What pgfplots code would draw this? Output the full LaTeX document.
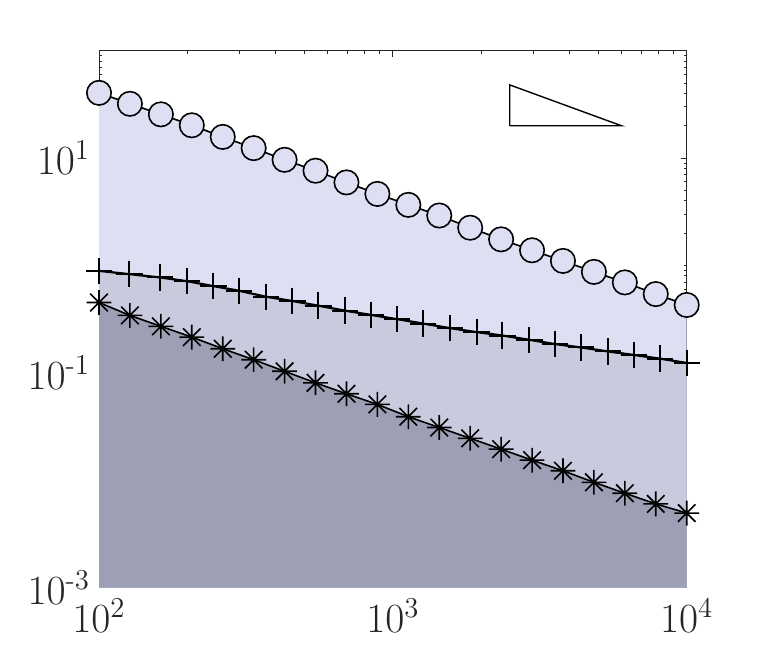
\documentclass[border=0pt]{standalone}
\usepackage{amsmath}
\usepackage{pgfplots}
\pgfplotsset{compat=1.18}
\definecolor{fillA}{RGB}{222,223,243}
\definecolor{fillB}{RGB}{201,202,221}
\definecolor{fillC}{RGB}{157,159,181}
\definecolor{axc}{RGB}{38,38,38}
\pgfdeclareplotmark{ast8}{%
  \pgfpathmoveto{\pgfpoint{-\pgfplotmarksize}{0pt}}%
  \pgfpathlineto{\pgfpoint{\pgfplotmarksize}{0pt}}%
  \pgfpathmoveto{\pgfpoint{0pt}{-\pgfplotmarksize}}%
  \pgfpathlineto{\pgfpoint{0pt}{\pgfplotmarksize}}%
  \pgfpathmoveto{\pgfpoint{-0.707\pgfplotmarksize}{-0.707\pgfplotmarksize}}%
  \pgfpathlineto{\pgfpoint{0.707\pgfplotmarksize}{0.707\pgfplotmarksize}}%
  \pgfpathmoveto{\pgfpoint{-0.707\pgfplotmarksize}{0.707\pgfplotmarksize}}%
  \pgfpathlineto{\pgfpoint{0.707\pgfplotmarksize}{-0.707\pgfplotmarksize}}%
  \pgfusepathqstroke}
\pgfplotstableread{
x y
100 40.51
127.4 32.03
162.4 25.55
206.9 20.21
263.7 15.75
336.0 12.38
428.1 9.64
545.6 7.63
695.2 5.94
885.9 4.64
1128.8 3.67
1438.4 2.92
1832.9 2.248
2335.7 1.752
2976.4 1.386
3792.7 1.103
4832.9 0.872
6158.5 0.696
7847.6 0.542
10000 0.429
}\circdata
\pgfplotstableread{
x y
100 0.891
126.8 0.831
161.3 0.774
198.9 0.715
244.9 0.643
299.5 0.582
370.1 0.512
454.8 0.467
557.6 0.4225
687.5 0.3798
842.6 0.3465
1035 0.3162
1269 0.2879
1565 0.2610
1929 0.2396
2358 0.2229
2913 0.2033
3563 0.1855
4368 0.1726
5385 0.1585
6618 0.1468
8115 0.1357
10000 0.1238
}\plusdata
\pgfplotstableread{
x y
100 0.4524
127.4 0.3429
162.4 0.2713
206.9 0.2154
263.7 0.1679
336.0 0.1327
428.1 0.1035
545.6 0.0808
695.2 0.0639
885.9 0.0509
1128.8 0.0391
1438.4 0.0310
1832.9 0.0246
2335.7 0.0195
2976.4 0.0154
3792.7 0.01227
4832.9 0.00958
6158.5 0.00758
7847.6 0.00603
10000 0.00495
}\astdata
\begin{document}
\begin{tikzpicture}
\begin{axis}[
  at={(0,0)}, anchor=south west,
  scale only axis, width=293.85pt, height=268.5pt,
  xmode=log, ymode=log, log origin y=infty,
  xmin=100, xmax=10000, ymin=1e-3, ymax=100,
  xtick={100,1000,10000},
  xticklabels={$10^{2}$,$10^{3}$,$10^{4}$},
  ytick={1e-3,1e-1,1e1},
  yticklabels={$10^{\text{-}3}$,$10^{\text{-}1}$,$10^{1}$},
  minor xtick={200,300,400,500,600,700,800,900,2000,3000,4000,5000,6000,7000,8000,9000},
  minor ytick={2e-3,3e-3,4e-3,5e-3,6e-3,7e-3,8e-3,9e-3,1e-2,2e-2,3e-2,4e-2,5e-2,6e-2,7e-2,8e-2,9e-2,
    2e-1,3e-1,4e-1,5e-1,6e-1,7e-1,8e-1,9e-1,1,2,3,4,5,6,7,8,9,20,30,40,50,60,70,80,90},
  tick align=inside,
  major tick length=3pt, minor tick length=1.6pt,
  axis line style={axc, line width=0.5pt},
  every tick/.style={axc, line width=0.45pt},
  tick label style={font=\fontsize{20}{24}\selectfont, text=axc},
  xticklabel style={yshift=-2pt},
  yticklabel style={xshift=-1pt},
]
% filled areas
\addplot[fill=fillA, draw=none, mark=none] table[x=x,y=y] {\circdata} \closedcycle;
\addplot[fill=fillB, draw=none, mark=none] table[x=x,y=y] {\plusdata} \closedcycle;
\addplot[fill=fillC, draw=none, mark=none] table[x=x,y=y] {\astdata} \closedcycle;
% lines with markers
\addplot[black, line width=0.8pt, mark=*, mark size=6.1pt, mark options={fill=fillA, draw=black, line width=0.8pt}] table[x=x,y=y] {\circdata};
\addplot[black, line width=1.1pt, mark=+, mark size=6.6pt, mark options={line width=1pt}] table[x=x,y=y] {\plusdata};
\addplot[black, line width=0.8pt, mark=ast8, mark size=6.2pt, mark options={line width=0.8pt}] table[x=x,y=y] {\astdata};
% slope triangle
\addplot[black, line width=0.7pt, mark=none] coordinates {(2500,20) (6000,20) (2500,48) (2500,20)};
\end{axis}
\path (-49.5pt,-37.15pt) rectangle (330pt,293.85pt);
\end{tikzpicture}
\end{document}
